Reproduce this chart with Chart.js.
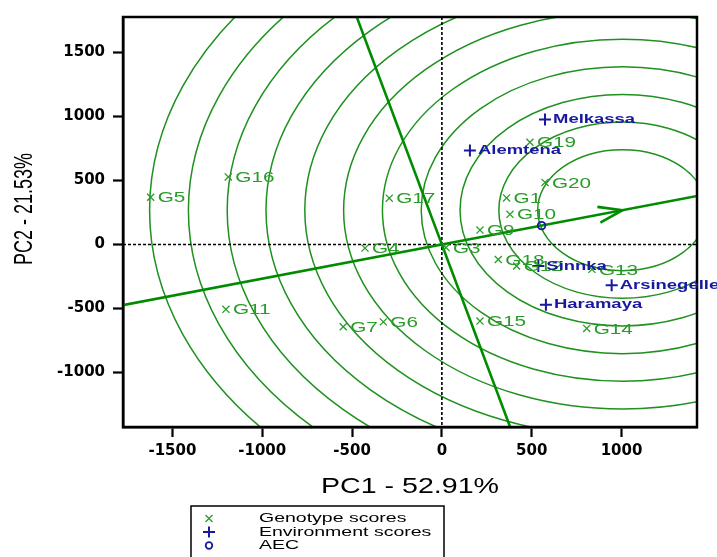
<!DOCTYPE html>
<html><head><meta charset="utf-8">
<script src="https://cdn.jsdelivr.net/npm/chart.js@4.4.1/dist/chart.umd.min.js"></script>
<style>html,body{margin:0;padding:0;background:#fff;overflow:hidden}canvas{display:block}</style>
</head><body>
<canvas id="c" width="717" height="557"></canvas>
<script>
// ---- data ----
const genotypeLabels = ['G5','G16','G17','G4','G11','G7','G6','G3','G9','G10','G1','G20','G19','G18','G12','G13','G14','G15'];
const genotypePC1 = [-1621,-1189,-293,-428,-1202,-549,-326,23,212,379,360,574,490,314,416,835,806,212];
const genotypePC2 = [369,528,362,-28,-506,-642,-604,-24,113,236,364,485,799,-117,-168,-194,-655,-598];
const environmentLabels = ['Melkassa','Alemtena','Sinnka','Arsinegelle','Haramaya'];
const environmentPC1 = [574,156,537,945,579];
const environmentPC2 = [976,735,-168,-317,-471];
const aecPC1 = [555];
const aecPC2 = [148];
const idealPC1 = [1005];
const idealPC2 = [268];
const circleRadii = [472,688,904,1120,1336,1552,1768,1984,2200,2416,2632];
const xTickValues = [-1500,-1000,-500,0,500,1000];
const yTickValues = [-1000,-500,0,500,1000,1500];
const xTitle = 'PC1 - 52.91%';
const yTitle = 'PC2 - 21.53%';
const legendLabels = ['Genotype scores','Environment scores','AEC'];

const GREEN_PT = 'rgb(40,155,40)';
const GREEN_CIRCLE = 'rgb(30,145,30)';
const GREEN_AXIS = 'rgb(0,140,0)';
const BLUE = 'rgb(25,25,160)';

function stretchedText(ctx, text, x, y, font, sx, align, color, rot) {
  ctx.save();
  ctx.font = font; ctx.fillStyle = color; ctx.textBaseline = 'middle'; ctx.textAlign = align;
  ctx.translate(x, y); ctx.scale(sx, 1);
  if (rot) ctx.rotate(rot);
  ctx.fillText(text, 0, 0);
  ctx.restore();
}

const biplotPlugin = {
  id: 'biplot',
  beforeDatasetsDraw(chart) {
    const {ctx, chartArea: a, scales: {x, y}} = chart;
    ctx.save();
    ctx.beginPath(); ctx.rect(a.left, a.top, a.right - a.left, a.bottom - a.top); ctx.clip();
    const cxp = x.getPixelForValue(idealPC1[0]), cyp = y.getPixelForValue(idealPC2[0]);
    const kx = Math.abs(x.getPixelForValue(1000) - x.getPixelForValue(0)) / 1000;
    const ky = Math.abs(y.getPixelForValue(1000) - y.getPixelForValue(0)) / 1000;
    ctx.strokeStyle = GREEN_CIRCLE; ctx.lineWidth = 1.5;
    circleRadii.forEach(r => {
      ctx.beginPath(); ctx.ellipse(cxp, cyp, r * kx, r * ky, 0, 0, 2 * Math.PI); ctx.stroke();
    });
    const x0 = x.getPixelForValue(0), y0 = y.getPixelForValue(0);
    ctx.setLineDash([3, 2]); ctx.strokeStyle = '#000'; ctx.lineWidth = 1.6;
    ctx.beginPath(); ctx.moveTo(a.left, y0); ctx.lineTo(a.right, y0); ctx.stroke();
    ctx.beginPath(); ctx.moveTo(x0, a.top); ctx.lineTo(x0, a.bottom); ctx.stroke();
    ctx.setLineDash([]);
    const t = 6;
    const ix = idealPC1[0], iy = idealPC2[0];
    ctx.strokeStyle = GREEN_AXIS; ctx.lineWidth = 2.6;
    ctx.beginPath();
    ctx.moveTo(x.getPixelForValue(-t * ix), y.getPixelForValue(-t * iy));
    ctx.lineTo(x.getPixelForValue(t * ix), y.getPixelForValue(t * iy));
    ctx.stroke();
    ctx.beginPath();
    ctx.moveTo(x.getPixelForValue(-t * iy), y.getPixelForValue(t * ix));
    ctx.lineTo(x.getPixelForValue(t * iy), y.getPixelForValue(-t * ix));
    ctx.stroke();
    let dx = cxp - x0, dy = cyp - y0; const L = Math.hypot(dx, dy); dx /= L; dy /= L;
    const back = 24, w = 8;
    ctx.lineWidth = 2.6;
    ctx.beginPath();
    ctx.moveTo(cxp - back * dx - w * dy, cyp - back * dy + w * dx);
    ctx.lineTo(cxp, cyp);
    ctx.lineTo(cxp - back * dx + w * dy, cyp - back * dy - w * dx);
    ctx.stroke();
    ctx.restore();
  },
  afterDatasetsDraw(chart) {
    const {ctx, chartArea: a, scales: {x, y}} = chart;
    ctx.save();
    ctx.strokeStyle = '#000'; ctx.lineWidth = 2.5;
    ctx.strokeRect(a.left, a.top, a.right - a.left, a.bottom - a.top);
    ctx.restore();
    genotypeLabels.forEach((lab, i) => {
      stretchedText(ctx, lab, x.getPixelForValue(genotypePC1[i]) + 7, y.getPixelForValue(genotypePC2[i]) + 1,
        '15px "Liberation Sans", Arial, sans-serif', 1.38, 'left', GREEN_PT);
    });
    environmentLabels.forEach((lab, i) => {
      stretchedText(ctx, lab, x.getPixelForValue(environmentPC1[i]) + 8, y.getPixelForValue(environmentPC2[i]),
        'bold 13px "Liberation Sans", Arial, sans-serif', 1.42, 'left', BLUE);
    });
  },
  afterDraw(chart) {
    const {ctx, chartArea: a} = chart;
    stretchedText(ctx, xTitle, (a.left + a.right) / 2, 487, '22px "Liberation Sans", Arial, sans-serif', 1.3, 'center', '#000');
    stretchedText(ctx, yTitle, 25, 209, '18px "Liberation Sans", Arial, sans-serif', 1.4, 'center', '#000', -Math.PI / 2);
    ctx.save();
    ctx.strokeStyle = '#000'; ctx.lineWidth = 1.5;
    ctx.strokeRect(191, 506, 253, 70);
    const rows = [518.5, 532, 545.5], sxp = 209;
    ctx.strokeStyle = GREEN_PT; ctx.lineWidth = 1.3;
    ctx.beginPath(); ctx.moveTo(sxp - 3.5, rows[0] - 3.5); ctx.lineTo(sxp + 3.5, rows[0] + 3.5);
    ctx.moveTo(sxp + 3.5, rows[0] - 3.5); ctx.lineTo(sxp - 3.5, rows[0] + 3.5); ctx.stroke();
    ctx.strokeStyle = BLUE; ctx.lineWidth = 2;
    ctx.beginPath(); ctx.moveTo(sxp - 6, rows[1]); ctx.lineTo(sxp + 6, rows[1]);
    ctx.moveTo(sxp, rows[1] - 5.5); ctx.lineTo(sxp, rows[1] + 5.5); ctx.stroke();
    ctx.lineWidth = 1.8;
    ctx.beginPath(); ctx.arc(sxp, rows[2], 3.3, 0, 2 * Math.PI); ctx.stroke();
    ctx.restore();
    legendLabels.forEach((lab, i) => {
      stretchedText(ctx, lab, 259, rows[i], '13px "Liberation Sans", Arial, sans-serif', 1.5, 'left', '#000');
    });
  }
};

const tickFont = {family: '"DejaVu Sans", sans-serif', size: 15, weight: 'bold'};

new Chart(document.getElementById('c'), {
  type: 'scatter',
  data: {
    datasets: [
      {
        label: legendLabels[0],
        data: genotypePC1.map((v, i) => ({x: v, y: genotypePC2[i]})),
        pointStyle: 'crossRot', radius: 5, borderWidth: 1.3,
        borderColor: GREEN_PT, backgroundColor: GREEN_PT
      },
      {
        label: legendLabels[1],
        data: environmentPC1.map((v, i) => ({x: v, y: environmentPC2[i]})),
        pointStyle: 'cross', radius: 6, borderWidth: 2,
        borderColor: BLUE, backgroundColor: BLUE
      },
      {
        label: legendLabels[2],
        data: aecPC1.map((v, i) => ({x: v, y: aecPC2[i]})),
        pointStyle: 'circle', radius: 3.8, borderWidth: 1.8,
        borderColor: BLUE, backgroundColor: 'rgba(0,0,0,0)'
      }
    ]
  },
  options: {
    responsive: false,
    animation: false,
    devicePixelRatio: 1,
    layout: {padding: {left: 0, right: 20, top: 10, bottom: 0}},
    plugins: {legend: {display: false}, tooltip: {enabled: false}},
    scales: {
      x: {
        type: 'linear', min: -1775, max: 1420,
        afterBuildTicks: s => { s.ticks = xTickValues.map(v => ({value: v})); },
        afterFit: s => { s.height = 130; },
        grid: {display: true, drawOnChartArea: false, drawTicks: true, tickLength: 10, tickWidth: 2.2, tickColor: '#000'},
        border: {display: true, color: '#000', width: 2.5},
        ticks: {font: tickFont, color: '#000', padding: 5, maxRotation: 0, autoSkip: false, callback: v => String(v)},
        title: {display: false, text: xTitle}
      },
      y: {
        type: 'linear', min: -1425, max: 1777,
        afterBuildTicks: s => { s.ticks = yTickValues.map(v => ({value: v})); },
        afterFit: s => { s.width = 123; },
        grid: {display: true, drawOnChartArea: false, drawTicks: true, tickLength: 10, tickWidth: 2.2, tickColor: '#000'},
        border: {display: true, color: '#000', width: 2.5},
        ticks: {font: tickFont, color: '#000', padding: 8, autoSkip: false, callback: v => String(v)},
        title: {display: false, text: yTitle}
      }
    }
  },
  plugins: [biplotPlugin]
});
</script>
</body></html>
